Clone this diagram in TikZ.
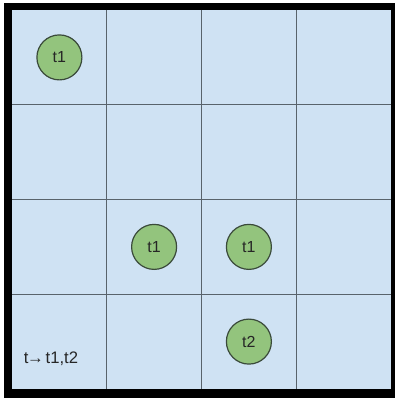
\documentclass[tikz,border=0pt]{standalone}
\usepackage{fontspec}
\setmainfont{Liberation Sans}
\definecolor{cellblue}{HTML}{CFE2F3}
\definecolor{tokgreen}{HTML}{93C47D}
\definecolor{tokline}{HTML}{3A4A3A}
\definecolor{gridline}{HTML}{59636B}
\begin{document}
\begin{tikzpicture}[x=0.75pt,y=-0.75pt,
  token/.style={draw=tokline, line width=0.9pt, fill=tokgreen, circle, minimum size=33.75pt, inner sep=0pt, font=\fontsize{12}{14}\selectfont, text=black!85},
  gridrule/.style={draw=gridline, line width=0.8pt}]
\useasboundingbox (0,0) rectangle (395,398);
\fill[white] (0,0) rectangle (395,398);
\fill[black] (4,3) rectangle (395,398);
\fill[cellblue] (12,10) rectangle (391,389);
% grid
\draw[gridrule] (106.75,10) -- (106.75,389);
\draw[gridrule] (201.5,10) -- (201.5,389);
\draw[gridrule] (296.25,10) -- (296.25,389);
\draw[gridrule] (12,104.75) -- (391,104.75);
\draw[gridrule] (12,199.5) -- (391,199.5);
\draw[gridrule] (12,294.25) -- (391,294.25);
% tokens
\node[token] (a) at (59.4,57.4) {t1};
\node[token] (b) at (154.1,246.9) {t1};
\node[token] (c) at (248.9,246.9) {t1};
\node[token] (d) at (248.9,341.6) {t2};
\node[anchor=base west, inner sep=0pt, font=\fontsize{12.5}{14}\selectfont, text=black!85] (rule) at (23.5,363) {t\kern-1pt→\kern-2pt\ t1,t2};
\end{tikzpicture}
\end{document}
